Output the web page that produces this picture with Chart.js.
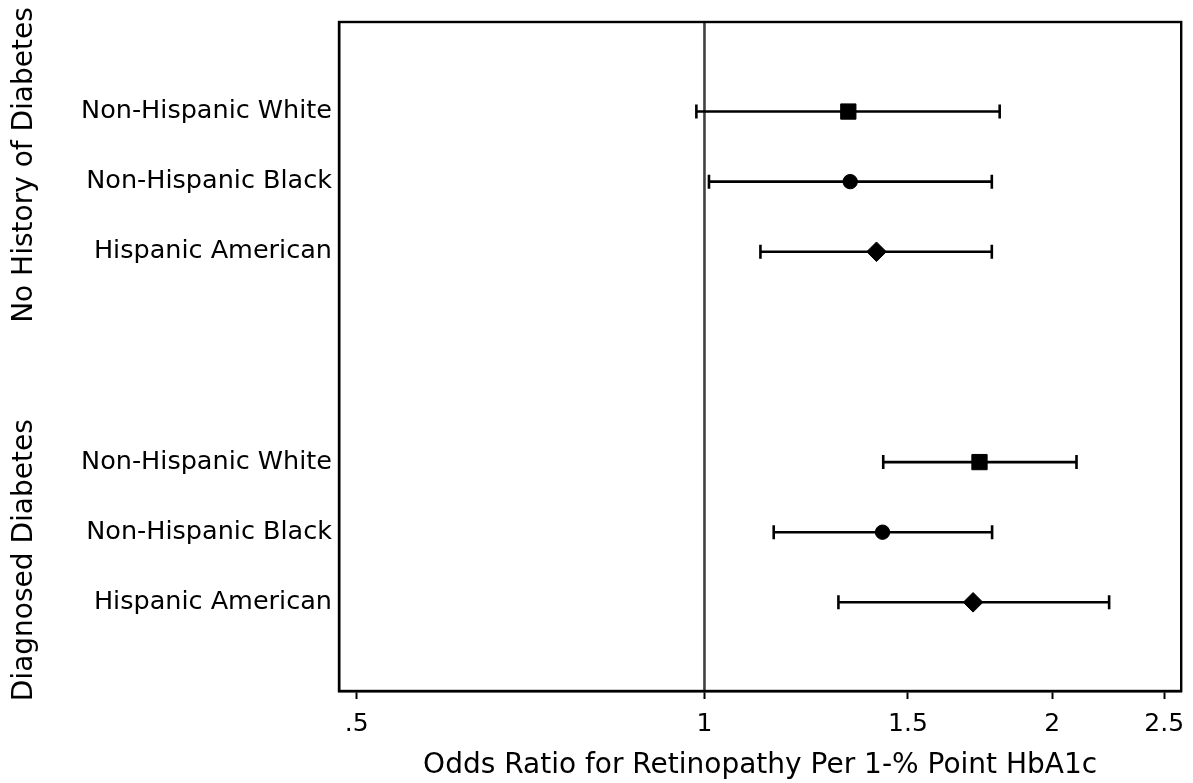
<!DOCTYPE html>
<html>
<head>
<meta charset="utf-8">
<script src="https://cdn.jsdelivr.net/npm/chart.js@4.4.1/dist/chart.umd.min.js"></script>
<style>
html,body{margin:0;padding:0;background:#fff;}
#wrap{width:1193px;height:783px;}
</style>
</head>
<body>
<div id="wrap"><canvas id="c" width="1193" height="783"></canvas></div>
<script>
// ---- data ----
const groupLabels = ['No History of Diabetes', 'Diagnosed Diabetes'];
const rowLabels = ['Non-Hispanic White', 'Non-Hispanic Black', 'Hispanic American',
                   'Non-Hispanic White', 'Non-Hispanic Black', 'Hispanic American'];
const rowPositions = [1, 2, 3, 6, 7, 8];
const oddsRatio = [1.332, 1.337, 1.409, 1.730, 1.426, 1.708];
const ciLower   = [0.984, 1.009, 1.118, 1.428, 1.148, 1.306];
const ciUpper   = [1.801, 1.773, 1.773, 2.099, 1.774, 2.240];
const xTickValues = [0.5, 1, 1.5, 2, 2.5];
const xTickLabels = ['.5', '1', '1.5', '2', '2.5'];
const referenceOR = 1;

// ---- layout / style constants ----
const X_MIN = 0.4827, X_MAX = 2.586;
const Y_MIN = -0.277, Y_MAX = 9.265;
const groupCenters = [1.763, 7.40];
const markerStyles = ['rect', 'circle', 'rectRot', 'rect', 'circle', 'rectRot'];
const markerRadius = { rect: 10.8, circle: 7.2, rectRot: 9.8 };
const FONT = '"DejaVu Sans", "Liberation Sans", sans-serif';

const ciDatasets = rowPositions.map((p, i) => ({
  label: 'CI ' + (i + 1),
  data: [{ x: ciLower[i], y: p }, { x: ciUpper[i], y: p }],
  showLine: true,
  borderColor: '#000',
  borderWidth: 2.6,
  pointStyle: 'line',
  pointRotation: 90,
  pointRadius: 7,
  pointHoverRadius: 7,
  pointBorderWidth: 2.6,
  pointBorderColor: '#000',
  order: 1
}));

const estimateDataset = {
  label: 'Odds ratio',
  data: rowPositions.map((p, i) => ({ x: oddsRatio[i], y: p })),
  showLine: false,
  pointStyle: markerStyles,
  pointRadius: markerStyles.map(s => markerRadius[s]),
  pointHoverRadius: markerStyles.map(s => markerRadius[s]),
  pointBackgroundColor: '#000',
  pointBorderColor: '#000',
  pointBorderWidth: 1,
  order: 0
};

const refDataset = {
  label: 'Reference',
  data: [{ x: referenceOR, y: Y_MIN }, { x: referenceOR, y: Y_MAX }],
  showLine: true,
  borderColor: '#404040',
  borderWidth: 2.6,
  pointRadius: 0,
  pointHoverRadius: 0,
  order: 2
};

const framePlugin = {
  id: 'frame',
  afterDraw(chart) {
    const { ctx, chartArea: { left, top, right, bottom }, scales: { y } } = chart;
    ctx.save();
    ctx.strokeStyle = '#000';
    ctx.lineWidth = 2.4;
    ctx.strokeRect(left, top, right - left, bottom - top);
    ctx.fillStyle = '#000';
    ctx.font = '28px ' + FONT;
    ctx.textAlign = 'center';
    ctx.textBaseline = 'alphabetic';
    groupLabels.forEach((t, i) => {
      const py = y.getPixelForValue(groupCenters[i]);
      ctx.save();
      ctx.translate(32, py);
      ctx.rotate(-Math.PI / 2);
      ctx.fillText(t, 0, 0);
      ctx.restore();
    });
    ctx.restore();
  }
};

new Chart(document.getElementById('c'), {
  type: 'scatter',
  data: { datasets: [estimateDataset, ...ciDatasets, refDataset] },
  options: {
    responsive: false,
    animation: false,
    devicePixelRatio: 1,
    layout: { padding: { left: 0, right: 7, top: 22, bottom: 0 } },
    plugins: { legend: { display: false }, tooltip: { enabled: false } },
    scales: {
      x: {
        type: 'logarithmic',
        min: X_MIN,
        max: X_MAX,
        afterBuildTicks: s => { s.ticks = xTickValues.map(v => ({ value: v })); },
        afterFit: s => { s.height = 92; s.paddingLeft = 0; s.paddingRight = 0; },
        ticks: {
          autoSkip: false,
          maxRotation: 0,
          color: '#000',
          font: { family: FONT, size: 25 },
          padding: 10,
          callback: (v) => { const k = xTickValues.indexOf(v); return k >= 0 ? xTickLabels[k] : ''; }
        },
        grid: { display: true, drawOnChartArea: false, drawTicks: true, tickLength: 8, tickWidth: 2, tickColor: '#000' },
        border: { display: true, color: '#000', width: 2.4 },
        title: {
          display: true,
          text: 'Odds Ratio for Retinopathy Per 1-% Point HbA1c',
          color: '#000',
          font: { family: FONT, size: 28 },
          padding: { top: 0, bottom: 0 }
        }
      },
      y: {
        type: 'linear',
        reverse: true,
        min: Y_MIN,
        max: Y_MAX,
        afterBuildTicks: s => { s.ticks = rowPositions.map(v => ({ value: v })); },
        afterFit: s => { s.width = 339; s.paddingTop = 0; s.paddingBottom = 0; },
        ticks: {
          autoSkip: false,
          color: '#000',
          font: { family: FONT, size: 25.5 },
          padding: 7,
          callback: (v) => { const k = rowPositions.indexOf(v); return k >= 0 ? rowLabels[k] : ''; }
        },
        grid: { display: false, drawTicks: false },
        border: { display: true, color: '#000', width: 2.4 }
      }
    }
  },
  plugins: [framePlugin]
});
</script>
</body>
</html>
